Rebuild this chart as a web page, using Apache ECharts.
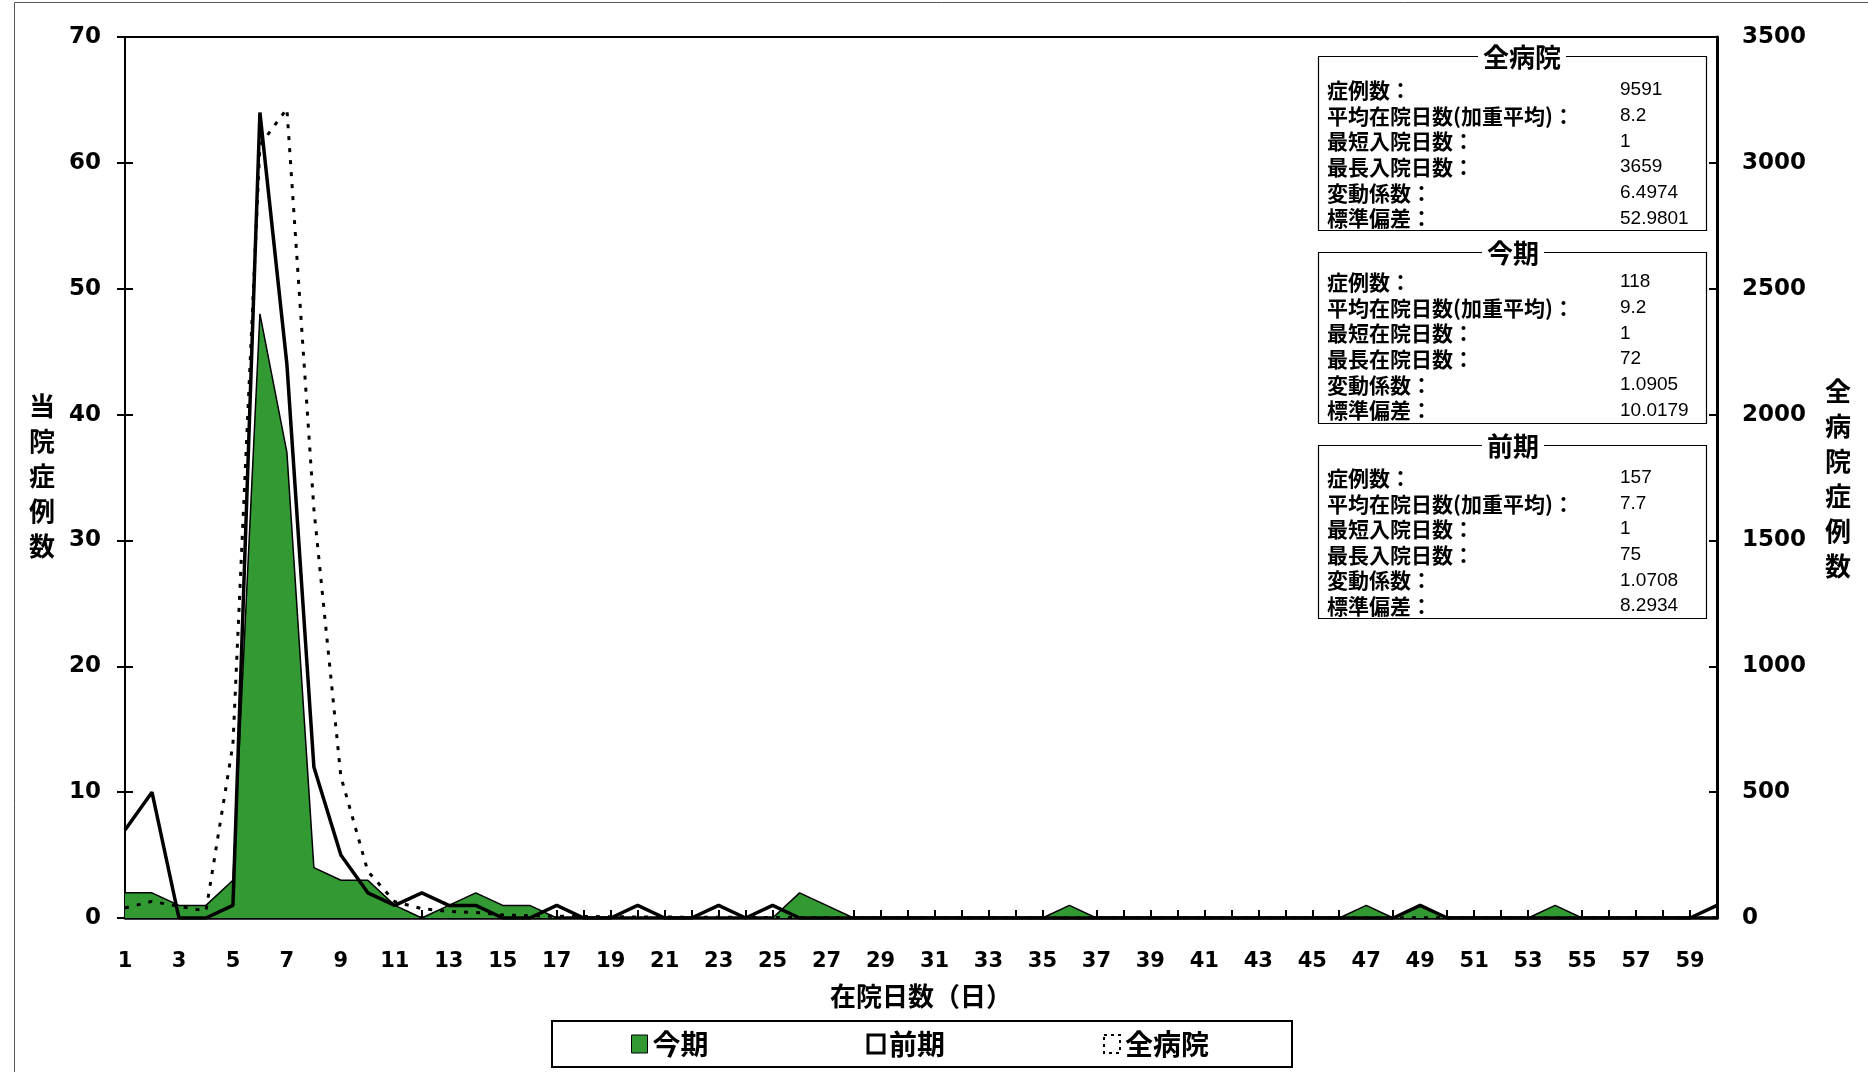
<!DOCTYPE html>
<html><head><meta charset="utf-8">
<script src="https://cdn.jsdelivr.net/npm/echarts@6/dist/echarts.min.js"></script>
<style>html,body{margin:0;padding:0;background:#fff}#c{width:1868px;height:1072px}</style>
</head><body><div id="c"></div>
<script>
// ---- data ----
const days = ['1','2','3','4','5','6','7','8','9','10','11','12','13','14','15','16','17','18','19','20',
  '21','22','23','24','25','26','27','28','29','30','31','32','33','34','35','36','37','38','39','40',
  '41','42','43','44','45','46','47','48','49','50','51','52','53','54','55','56','57','58','59','60'];
// 今期 (left axis)
const konki = [2,2,1,1,3,48,37,4,3,3,1,0,1,2,1,1,0,0,0,0,
  0,0,0,0,0,2,1,0,0,0,0,0,0,0,0,1,0,0,0,0,
  0,0,0,0,0,0,1,0,1,0,0,0,0,1,0,0,0,0,0,0];
// 前期 (left axis)
const zenki = [7,10,0,0,1,64,44,12,5,2,1,2,1,1,0,0,1,0,0,1,
  0,0,1,0,1,0,0,0,0,0,0,0,0,0,0,0,0,0,0,0,
  0,0,0,0,0,0,0,0,1,0,0,0,0,0,0,0,0,0,0,1];
// 全病院 (right axis)
const zenbyoin = [40,66,46,28,690,3070,3215,1625,562,185,65,37,26,22,12,9,7,6,5,4,
  4,3,3,3,2,2,2,2,2,1,1,1,1,1,1,1,1,1,1,1,
  1,1,1,1,1,1,1,1,1,1,1,1,1,1,1,1,1,1,1,1];
const seriesNames = ['今期','前期','全病院'];
const leftTicks = {min:0, max:70, interval:10};
const rightTicks = {min:0, max:3500, interval:500};
const leftAxisName = '当院症例数';
const rightAxisName = '全病院症例数';
const xAxisName = '在院日数（日）';
// stats boxes
const statTitles = ['全病院','今期','前期'];
const statLabels = [
  ['症例数：','平均在院日数(加重平均)：','最短入院日数：','最長入院日数：','変動係数：','標準偏差：'],
  ['症例数：','平均在院日数(加重平均)：','最短在院日数：','最長在院日数：','変動係数：','標準偏差：'],
  ['症例数：','平均在院日数(加重平均)：','最短入院日数：','最長入院日数：','変動係数：','標準偏差：']
];
const statValues = [
  ['9591','8.2','1','3659','6.4974','52.9801'],
  ['118','9.2','1','72','1.0905','10.0179'],
  ['157','7.7','1','75','1.0708','8.2934']
];

// ---- layout ----
const CJK = '"Noto Sans CJK JP", sans-serif';
const NUM = '"DejaVu Sans", sans-serif';
const boxes = [
  {x:1318, y:56, w:388, h:174, row0:90, step:25.7, tx:1522},
  {x:1318, y:252, w:388, h:171, row0:282, step:25.7, tx:1513},
  {x:1318, y:445, w:388, h:173, row0:478, step:25.6, tx:1513}
];
const graphics = [];
// outer border (top & left)
graphics.push({type:'polyline', silent:true, shape:{points:[[14.5,1072],[14.5,2.5],[1868,2.5]]}, style:{stroke:'#555', lineWidth:1, fill:null}});
boxes.forEach((b,i)=>{
  graphics.push({type:'rect', silent:true, shape:{x:b.x+0.5, y:b.y+0.5, width:b.w, height:b.h}, style:{fill:'#fff', stroke:'#000', lineWidth:1.2}, z:10});
  graphics.push({type:'text', silent:true, z:11, style:{text:statTitles[i], x:b.tx, y:b.y+1, textAlign:'center', textVerticalAlign:'middle',
    font:'bold 26px '+CJK, fill:'#000', backgroundColor:'#fff', padding:[0,5]}});
  statLabels[i].forEach((lab,j)=>{
    const yy = b.row0 + j*b.step;
    graphics.push({type:'text', silent:true, z:11, style:{text:lab, x:1327, y:yy, textAlign:'left', textVerticalAlign:'middle', font:'bold 21px '+CJK, fill:'#000'}});
    graphics.push({type:'text', silent:true, z:11, style:{text:statValues[i][j], x:1620, y:yy, textAlign:'left', textVerticalAlign:'middle', font:'19px "Liberation Sans", Arial, sans-serif', fill:'#000'}});
  });
});
graphics.push({type:'text', silent:true, style:{text:leftAxisName.split('').join('\n'), x:42, y:476, textAlign:'center', textVerticalAlign:'middle', font:'bold 26px '+CJK, lineHeight:35, fill:'#000'}});
graphics.push({type:'text', silent:true, style:{text:rightAxisName.split('').join('\n'), x:1838, y:479, textAlign:'center', textVerticalAlign:'middle', font:'bold 26px '+CJK, lineHeight:35, fill:'#000'}});
graphics.push({type:'text', silent:true, style:{text:xAxisName, x:921, y:996, textAlign:'center', textVerticalAlign:'middle', font:'bold 26px '+CJK, fill:'#000'}});

const plain = v => String(v);
const chart = echarts.init(document.getElementById('c'), null, {renderer:'canvas'});
chart.setOption({
  animation:false,
  backgroundColor:'#fff',
  grid:{left:125, top:37, width:1592, height:881, show:true, borderColor:'#000', borderWidth:2, backgroundColor:'transparent'},
  legend:{
    left:552, top:1021, orient:'horizontal',
    padding:[9,83,9,79], itemGap:158, itemWidth:16, itemHeight:18,
    borderColor:'#000', borderWidth:2,
    textStyle:{fontFamily:CJK, fontWeight:'bold', fontSize:28, color:'#000'},
    data:[
      {name:seriesNames[0], icon:'rect', itemStyle:{color:'#339933', borderColor:'#000', borderWidth:1}},
      {name:seriesNames[1], icon:'rect', itemStyle:{color:'#fff', borderColor:'#000', borderWidth:3}},
      {name:seriesNames[2], icon:'rect', itemStyle:{color:'#fff', borderColor:'#000', borderWidth:2, borderType:[3,4]}}
    ]
  },
  xAxis:{
    type:'category', data:days, boundaryGap:false,
    axisLine:{lineStyle:{color:'#000', width:3.5}},
    axisTick:{show:true, inside:true, length:8, interval:0, lineStyle:{color:'#000', width:2}},
    axisLabel:{interval:1, margin:33, color:'#000', fontFamily:NUM, fontWeight:'bold', fontSize:21},
    splitLine:{show:false}
  },
  yAxis:[
    {type:'value', position:'left', min:leftTicks.min, max:leftTicks.max, interval:leftTicks.interval,
      axisLine:{show:true, lineStyle:{color:'#000', width:2}},
      axisTick:{show:true, inside:false, length:8, lineStyle:{color:'#000', width:2}},
      axisLabel:{margin:24, color:'#000', fontFamily:NUM, fontWeight:'bold', fontSize:23, formatter:plain, padding:[7,0,0,0]},
      splitLine:{show:false}},
    {type:'value', position:'right', min:rightTicks.min, max:rightTicks.max, interval:rightTicks.interval,
      axisLine:{show:true, lineStyle:{color:'#000', width:3}},
      axisTick:{show:true, inside:true, length:8, lineStyle:{color:'#000', width:2}},
      axisLabel:{margin:25, color:'#000', fontFamily:NUM, fontWeight:'bold', fontSize:23, formatter:plain, padding:[7,0,0,0]},
      splitLine:{show:false}},
    {type:'value', position:'left', min:leftTicks.min, max:leftTicks.max, interval:leftTicks.interval,
      axisLine:{show:false}, axisLabel:{show:false}, splitLine:{show:false},
      axisTick:{show:true, inside:true, length:8, lineStyle:{color:'#000', width:2}}}
  ],
  series:[
    {name:seriesNames[0], type:'line', yAxisIndex:0, data:konki, symbol:'none',
      lineStyle:{color:'#000', width:1.5}, itemStyle:{color:'#339933'},
      areaStyle:{color:'#339933', opacity:1}, z:2},
    {name:seriesNames[1], type:'line', yAxisIndex:0, data:zenki, symbol:'none',
      lineStyle:{color:'#000', width:3.5}, itemStyle:{color:'#fff'}, z:3},
    {name:seriesNames[2], type:'line', yAxisIndex:1, data:zenbyoin, symbol:'none',
      lineStyle:{color:'#000', width:3, type:[4,8]}, itemStyle:{color:'#fff'}, z:4}
  ],
  graphic:graphics
});
</script></body></html>
